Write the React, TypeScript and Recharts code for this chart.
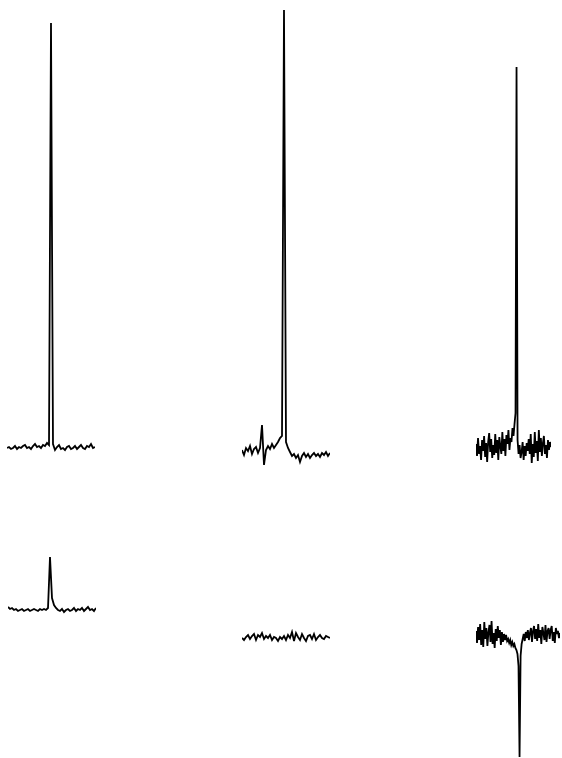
import React from 'react';
import { LineChart, Line, XAxis, YAxis } from 'recharts';

// intensities, baseline = 0, one unit ~ one pixel of the original figure
const traceA = [0, 1, -1, 0, 2, -1, 1, 0, 2, 3, 0, 1, -1, 2, 4, 1, 2, 0, 3, 2, 5, 3, 425, 4, -2, 1, 3, -1, 0, -2, 1, 2, -1, 0, 2, -1, 1, 3, 0, -1, 2, 1, 4, 0, 1];
const traceB = [2, -3, 4, 1, 6, -2, 3, 5, -1, 4, 27, -13, 2, 6, 3, 8, 4, 7, 10, 14, 16, 442, 10, 4, 0, -4, -2, -6, -3, -10, -4, -1, -5, -2, -6, -3, -1, -4, -2, -5, -1, -3, 0, -4, -1];
const traceC = [
  4, -8, 10, -6, 2, -12, 8, -3, 12, -9, 5, -14, 6, 15, -4, 9, -10, 3, -7, 14,
  -5, 8, -12, 11, 2, -6, 16, -3, 9, -8, 13, 4, 18, -2, 10, 6, 20, 12, 24, 35,
  381, 8, -6, 3, -10, -4, 6, -12, 2, -8, 5, -3, 9, -6, 14, -15, 4, -9, 16, -5,
  7, -13, 18, -4, 10, -8, 5, 12, -6, 3, -10, 8, -2, 6, 1,
];
const traceD = [3, 1, 2, 0, 1, -1, 0, 1, -1, 0, 1, -1, 0, 1, 0, -1, 1, 0, 1, 0, 2, 53, 12, 5, 2, 0, -1, 1, -2, 0, 1, -1, 0, 2, -1, 1, 0, 2, -1, 1, 3, 0, 1, -1, 2];
const traceE = [0, -2, 1, 3, -1, 2, 4, -2, 3, 1, 5, -1, 2, 0, 3, -2, 1, 0, -3, 1, -1, 2, -2, 3, 0, 6, -3, 5, 1, -2, 4, 0, -3, 2, 3, -1, 4, -2, 1, 3, 0, -1, 2, 1, 0];
const traceF = [
  5, -7, 9, -4, 12, -9, 6, -11, 14, -3, 8, -10, 4, 11, -6, 15, -8, 3, -12, 7,
  -5, 10, -2, 6, -9, 4, -6, 2, -4, 1, -5, -3, -7, -4, -9, -6, -10, -8, -12, -14,
  -18, -30, -121, -20, -8, -3, 2, -5, 4, -2, 6, -4, 3, 8, -6, 5, 10, -3, 7, -5,
  12, -2, 6, -8, 9, 3, -4, 11, -6, 5, 8, -3, 6, 10, -5, 4, -7, 8, 2, 5, -2, 3,
];

const traces = [traceA, traceB, traceC, traceD, traceE, traceF];

// where each small spectrum sits on the page
const panels = [
  { left: 7, baseline: 448, width: 88 },
  { left: 242, baseline: 452, width: 88 },
  { left: 476, baseline: 448, width: 75 },
  { left: 8, baseline: 610, width: 88 },
  { left: 242, baseline: 638, width: 88 },
  { left: 476, baseline: 636, width: 84 },
];

const PAD = 3;

const Spectrum: React.FC<{ values: number[]; left: number; baseline: number; width: number }> = ({
  values,
  left,
  baseline,
  width,
}) => {
  const data = values.map((v, i) => ({ i, v }));
  const hi = Math.max(...values) + PAD;
  const lo = Math.min(...values) - PAD;
  const height = hi - lo;
  return (
    <div style={{ position: 'absolute', left, top: baseline - hi, width, height }}>
      <LineChart width={width} height={height} data={data} margin={{ top: 0, right: 0, bottom: 0, left: 0 }}>
        <XAxis dataKey="i" type="number" domain={[0, values.length - 1]} hide />
        <YAxis type="number" domain={[lo, hi]} hide />
        <Line
          type="linear"
          dataKey="v"
          stroke="#000"
          strokeWidth={1.8}
          dot={false}
          isAnimationActive={false}
        />
      </LineChart>
    </div>
  );
};

export default function App() {
  return (
    <div style={{ position: 'absolute', left: 0, top: 0, width: 562, height: 758, background: '#fff' }}>
      {panels.map((p, k) => (
        <Spectrum key={k} values={traces[k]} left={p.left} baseline={p.baseline} width={p.width} />
      ))}
    </div>
  );
}
